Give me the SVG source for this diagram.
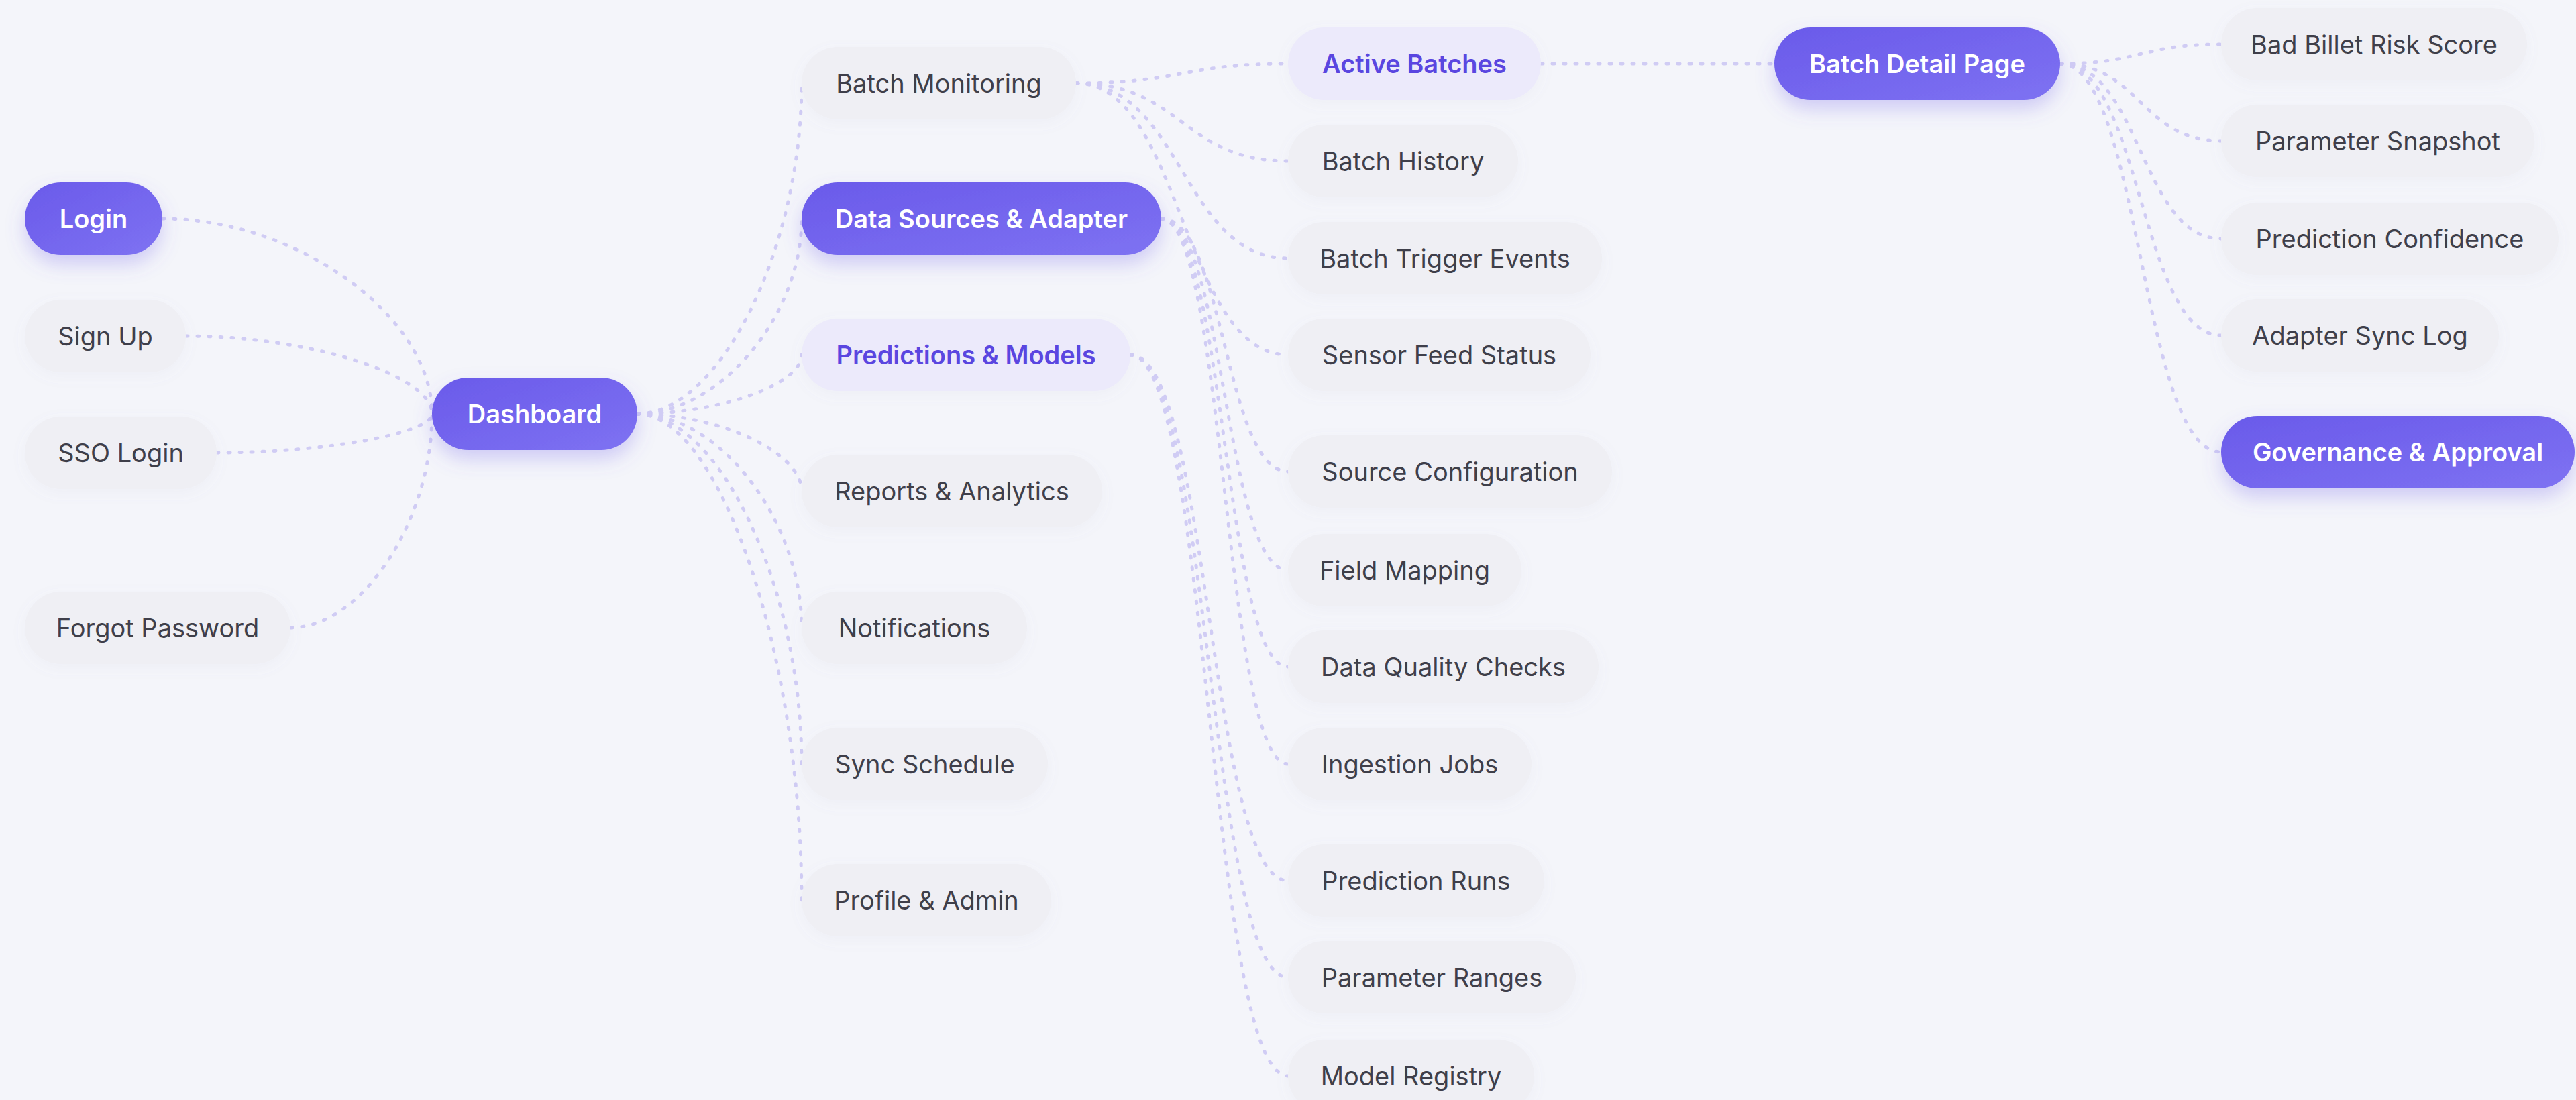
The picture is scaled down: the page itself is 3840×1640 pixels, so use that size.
<svg xmlns="http://www.w3.org/2000/svg" width="3840" height="1640" viewBox="0 0 3840 1640">
<defs>
  <linearGradient id="gPrimary" x1="0" y1="0" x2="1" y2="1">
    <stop offset="0" stop-color="#6A5AEA"/>
    <stop offset="1" stop-color="#7E72F2"/>
  </linearGradient>
  <filter id="shPrimary" x="-30%" y="-60%" width="160%" height="240%">
    <feDropShadow dx="0" dy="14" stdDeviation="14" flood-color="#6C5CE7" flood-opacity="0.28"/>
  </filter>
  <filter id="shSoft" x="-20%" y="-50%" width="140%" height="200%">
    <feDropShadow dx="0" dy="6" stdDeviation="10" flood-color="#8A86B0" flood-opacity="0.06"/>
  </filter>
  <style>
    .edge{fill:none;stroke:#D0CCF4;stroke-width:5;stroke-linecap:round;stroke-dasharray:3 14}
    .primary rect{fill:url(#gPrimary);filter:url(#shPrimary)}
    .accent rect{fill:#ECEAFB;filter:url(#shSoft)}
    .plain rect{fill:#EFEFF4;filter:url(#shSoft)}
    text{font-family:Inter,"Noto Sans","Liberation Sans",sans-serif;font-size:38px;text-anchor:middle}
    .primary text{fill:#FFFFFF;font-weight:600}
    .accent text{fill:#5A46E0;font-weight:600}
    .plain text{fill:#3F3F4A;font-weight:400}
  </style>
</defs>
<rect x="0" y="0" width="3840" height="1640" fill="#F4F5FA"/>

<g id="connectors">
  <path class="edge" d="M242,326 C443,326 644,471.5 644,617"/>
  <path class="edge" d="M277,501 C460.5,501 644,559 644,617"/>
  <path class="edge" d="M323,675 C483.5,675 644,646 644,617"/>
  <path class="edge" d="M433,936 C538.5,936 644,776.5 644,617"/>
  <path class="edge" d="M950,617 C1072.5,617 1195,370.5 1195,124"/>
  <path class="edge" d="M950,617 C1072.5,617 1195,471.5 1195,326"/>
  <path class="edge" d="M950,617 C1072.5,617 1195,573 1195,529"/>
  <path class="edge" d="M950,617 C1072.5,617 1195,674.5 1195,732"/>
  <path class="edge" d="M950,617 C1072.5,617 1195,776.5 1195,936"/>
  <path class="edge" d="M950,617 C1072.5,617 1195,878 1195,1139"/>
  <path class="edge" d="M950,617 C1072.5,617 1195,979.5 1195,1342"/>
  <path class="edge" d="M1604,124 C1762,124 1762,95 1920,95"/>
  <path class="edge" d="M1604,124 C1762,124 1762,240 1920,240"/>
  <path class="edge" d="M1604,124 C1762,124 1762,385 1920,385"/>
  <path class="edge" d="M1604,124 C1762,124 1762,529 1920,529"/>
  <path class="edge" d="M1731,326 C1825.5,326 1825.5,703 1920,703"/>
  <path class="edge" d="M1731,326 C1825.5,326 1825.5,850 1920,850"/>
  <path class="edge" d="M1731,326 C1825.5,326 1825.5,994 1920,994"/>
  <path class="edge" d="M1731,326 C1825.5,326 1825.5,1139 1920,1139"/>
  <path class="edge" d="M1685,529 C1802.5,529 1802.5,1313 1920,1313"/>
  <path class="edge" d="M1685,529 C1802.5,529 1802.5,1457 1920,1457"/>
  <path class="edge" d="M1685,529 C1802.5,529 1802.5,1604 1920,1604"/>
  <path class="edge" d="M2297,95 L2645,95"/>
  <path class="edge" d="M3071,95 C3191,95 3191,66 3311,66"/>
  <path class="edge" d="M3071,95 C3191,95 3191,210 3311,210"/>
  <path class="edge" d="M3071,95 C3191,95 3191,356 3311,356"/>
  <path class="edge" d="M3071,95 C3191,95 3191,500 3311,500"/>
  <path class="edge" d="M3071,95 C3191,95 3191,674 3311,674"/>
</g>

<g id="login" class="primary"><rect x="37" y="272" width="205" height="108" rx="54"/><text x="139.5" y="340">Login</text></g>
<g id="signup" class="plain"><rect x="37" y="447" width="240" height="108" rx="54"/><text x="157" y="515">Sign Up</text></g>
<g id="sso-login" class="plain"><rect x="37" y="621" width="286" height="108" rx="54"/><text x="180" y="689">SSO Login</text></g>
<g id="forgot-password" class="plain"><rect x="37" y="882" width="396" height="108" rx="54"/><text x="235" y="950">Forgot Password</text></g>

<g id="dashboard" class="primary"><rect x="644" y="563" width="306" height="108" rx="54"/><text x="797" y="631">Dashboard</text></g>

<g id="batch-monitoring" class="plain"><rect x="1195" y="70" width="409" height="108" rx="54"/><text x="1399.5" y="138">Batch Monitoring</text></g>
<g id="data-sources" class="primary"><rect x="1195" y="272" width="536" height="108" rx="54"/><text x="1463" y="340">Data Sources &amp; Adapter</text></g>
<g id="predictions-models" class="accent"><rect x="1195" y="475" width="490" height="108" rx="54"/><text x="1440" y="543">Predictions &amp; Models</text></g>
<g id="reports-analytics" class="plain"><rect x="1195" y="678" width="448" height="108" rx="54"/><text x="1419" y="746">Reports &amp; Analytics</text></g>
<g id="notifications" class="plain"><rect x="1195" y="882" width="336" height="108" rx="54"/><text x="1363" y="950">Notifications</text></g>
<g id="sync-schedule" class="plain"><rect x="1195" y="1085" width="367" height="108" rx="54"/><text x="1378.5" y="1153">Sync Schedule</text></g>
<g id="profile-admin" class="plain"><rect x="1195" y="1288" width="372" height="108" rx="54"/><text x="1381" y="1356">Profile &amp; Admin</text></g>

<g id="active-batches" class="accent"><rect x="1920" y="41" width="377" height="108" rx="54"/><text x="2108.5" y="109">Active Batches</text></g>
<g id="batch-history" class="plain"><rect x="1920" y="186" width="343" height="108" rx="54"/><text x="2091.5" y="254">Batch History</text></g>
<g id="batch-trigger-events" class="plain"><rect x="1920" y="331" width="468" height="108" rx="54"/><text x="2154" y="399">Batch Trigger Events</text></g>
<g id="sensor-feed-status" class="plain"><rect x="1920" y="475" width="451" height="108" rx="54"/><text x="2145.5" y="543">Sensor Feed Status</text></g>
<g id="source-configuration" class="plain"><rect x="1920" y="649" width="483" height="108" rx="54"/><text x="2161.5" y="717">Source Configuration</text></g>
<g id="field-mapping" class="plain"><rect x="1920" y="796" width="348" height="108" rx="54"/><text x="2094" y="864">Field Mapping</text></g>
<g id="data-quality-checks" class="plain"><rect x="1920" y="940" width="463" height="108" rx="54"/><text x="2151.5" y="1008">Data Quality Checks</text></g>
<g id="ingestion-jobs" class="plain"><rect x="1920" y="1085" width="363" height="108" rx="54"/><text x="2101.5" y="1153">Ingestion Jobs</text></g>
<g id="prediction-runs" class="plain"><rect x="1920" y="1259" width="382" height="108" rx="54"/><text x="2111" y="1327">Prediction Runs</text></g>
<g id="parameter-ranges" class="plain"><rect x="1920" y="1403" width="429" height="108" rx="54"/><text x="2134.5" y="1471">Parameter Ranges</text></g>
<g id="model-registry" class="plain"><rect x="1920" y="1550" width="367" height="108" rx="54"/><text x="2103.5" y="1618">Model Registry</text></g>

<g id="batch-detail-page" class="primary"><rect x="2645" y="41" width="426" height="108" rx="54"/><text x="2858" y="109">Batch Detail Page</text></g>

<g id="bad-billet-risk-score" class="plain"><rect x="3311" y="12" width="456" height="108" rx="54"/><text x="3539" y="80">Bad Billet Risk Score</text></g>
<g id="parameter-snapshot" class="plain"><rect x="3311" y="156" width="467" height="108" rx="54"/><text x="3544.5" y="224">Parameter Snapshot</text></g>
<g id="prediction-confidence" class="plain"><rect x="3311" y="302" width="503" height="108" rx="54"/><text x="3562.5" y="370">Prediction Confidence</text></g>
<g id="adapter-sync-log" class="plain"><rect x="3311" y="446" width="414" height="108" rx="54"/><text x="3518" y="514">Adapter Sync Log</text></g>
<g id="governance-approval" class="primary"><rect x="3311" y="620" width="527" height="108" rx="54"/><text x="3574.5" y="688">Governance &amp; Approval</text></g>
</svg>
